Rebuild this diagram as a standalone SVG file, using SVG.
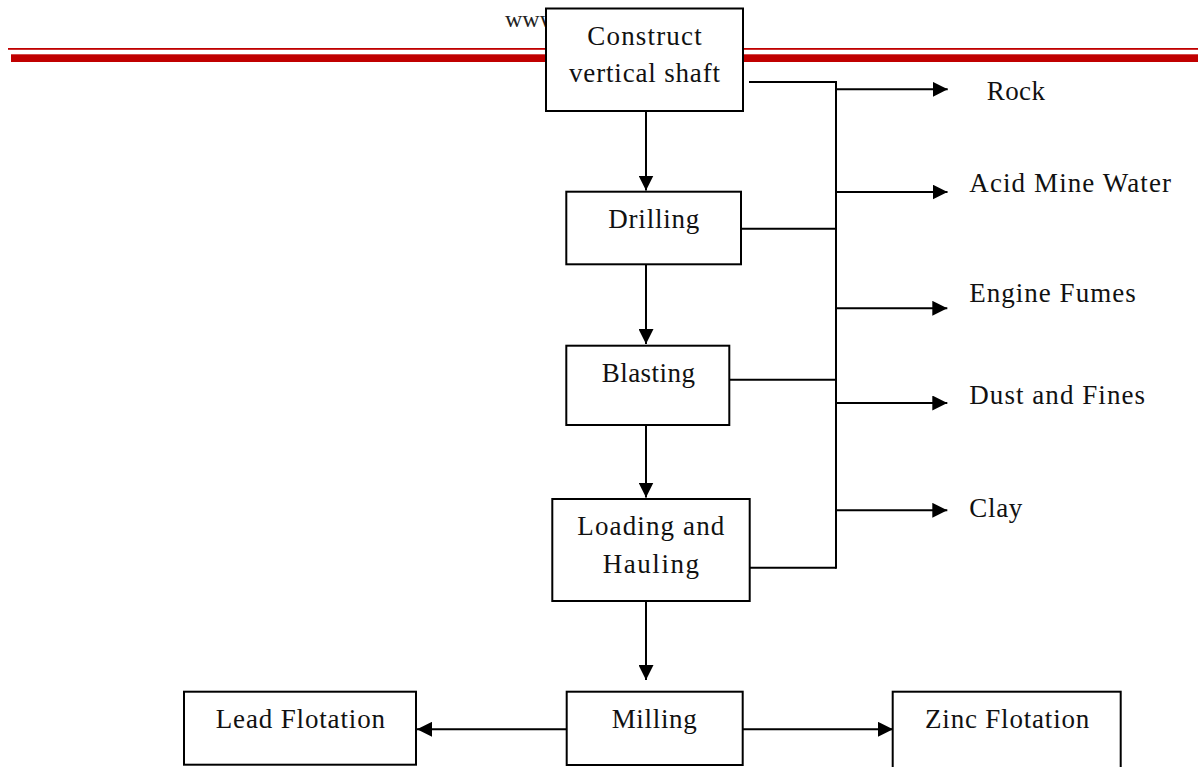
<svg xmlns="http://www.w3.org/2000/svg" width="1198" height="767" viewBox="0 0 1198 767">
<style>
.box{fill:#fff;stroke:#000;stroke-width:2}
.t{font-family:"Liberation Serif","Times New Roman",serif;font-size:27px;fill:#111}
.hdr{font-family:"Liberation Serif","Times New Roman",serif;font-size:24px;fill:#222}
.ln{fill:none;stroke:#000;stroke-width:2}
.ar{fill:none;stroke:#000;stroke-width:2;marker-end:url(#ah)}
</style>
<defs>
<marker id="ah" markerUnits="userSpaceOnUse" markerWidth="16" markerHeight="15" refX="15" refY="7.5" orient="auto">
<path d="M0,0 L15,7.5 L0,15 Z" fill="#000"/>
</marker>
</defs>
<rect width="1198" height="767" fill="#fff"/>
<g id="header">
<text class="hdr" x="505" y="27">www</text>
<rect x="8" y="48" width="1190" height="1.8" fill="#c00000"/>
<rect x="11" y="54.3" width="1187" height="7.7" fill="#c00000"/>
</g>
<g id="connectors">
<path class="ar" d="M646,111 V190.5"/>
<path class="ar" d="M646,264.3 V344"/>
<path class="ar" d="M646,425 V497.5"/>
<path class="ar" d="M646,601 V680"/>
<path class="ar" d="M566.7,729.3 H417"/>
<path class="ar" d="M742.7,729.3 H893"/>
<path class="ln" d="M749,82 H836 V568.7"/>
<path class="ln" d="M741,228.7 H836"/>
<path class="ln" d="M729.3,379.7 H836"/>
<path class="ln" d="M749.7,567.7 H836"/>
<path class="ar" d="M835,89.3 H947.7"/>
<path class="ar" d="M835,192 H947.5"/>
<path class="ar" d="M835,308.3 H947.3"/>
<path class="ar" d="M835,403 H947.3"/>
<path class="ar" d="M835,510.3 H947.3"/>
</g>
<g id="construct">
<rect class="box" x="546" y="8.5" width="197" height="102.5"/>
<text class="t" x="587.3" y="45" textLength="114.4" lengthAdjust="spacing">Construct</text>
<text class="t" x="569" y="82" textLength="151" lengthAdjust="spacing">vertical shaft</text>
</g>
<g id="drilling">
<rect class="box" x="566.3" y="191.7" width="174.7" height="72.6"/>
<text class="t" x="608.3" y="228.3" textLength="91" lengthAdjust="spacing">Drilling</text>
</g>
<g id="blasting">
<rect class="box" x="566.3" y="345.7" width="163" height="79.3"/>
<text class="t" x="601.7" y="381.7" textLength="93.3" lengthAdjust="spacing">Blasting</text>
</g>
<g id="loading">
<rect class="box" x="552.3" y="499" width="197.4" height="102"/>
<text class="t" x="577.3" y="535" textLength="147" lengthAdjust="spacing">Loading and</text>
<text class="t" x="602.7" y="572.7" textLength="96.3" lengthAdjust="spacing">Hauling</text>
</g>
<g id="milling">
<rect class="box" x="566.7" y="691.7" width="176" height="73.3"/>
<text class="t" x="611.7" y="727.7" textLength="85" lengthAdjust="spacing">Milling</text>
</g>
<g id="lead">
<rect class="box" x="184" y="691.7" width="232" height="73"/>
<text class="t" x="215.7" y="727.7" textLength="169.3" lengthAdjust="spacing">Lead Flotation</text>
</g>
<g id="zinc">
<rect class="box" x="892.7" y="691.7" width="228" height="80"/>
<text class="t" x="925" y="728.3" textLength="164.3" lengthAdjust="spacing">Zinc Flotation</text>
</g>
<g id="outputs">
<text class="t" x="986.7" y="100" textLength="58.3" lengthAdjust="spacing">Rock</text>
<text class="t" x="969.3" y="191.7" textLength="201.7" lengthAdjust="spacing">Acid Mine Water</text>
<text class="t" x="969.3" y="302.3" textLength="166.4" lengthAdjust="spacing">Engine Fumes</text>
<text class="t" x="969.3" y="404" textLength="175.7" lengthAdjust="spacing">Dust and Fines</text>
<text class="t" x="969.3" y="516.7" textLength="53" lengthAdjust="spacing">Clay</text>
</g>
</svg>
